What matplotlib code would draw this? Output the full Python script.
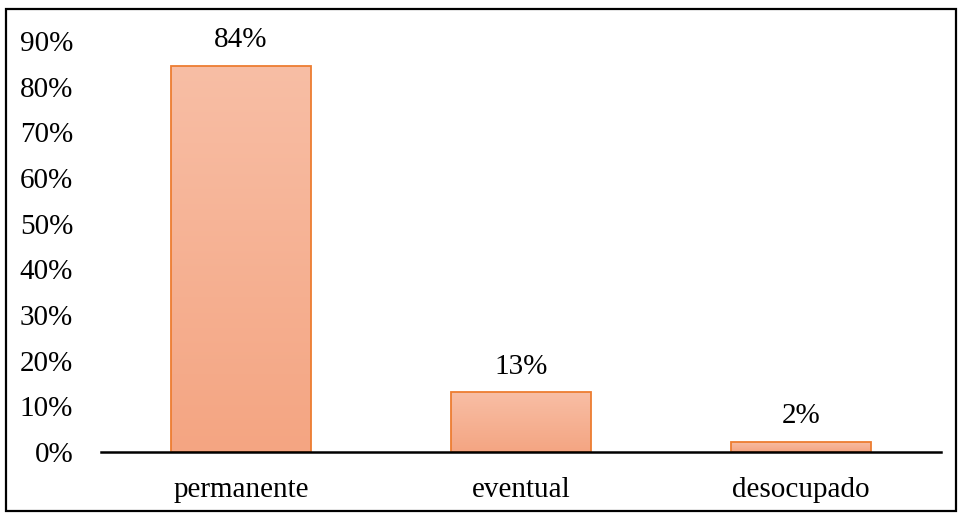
import numpy as np
import matplotlib.pyplot as plt
from matplotlib.patches import Rectangle
from matplotlib.colors import LinearSegmentedColormap

categories = ['permanente', 'eventual', 'desocupado']
values = [0.846, 0.131, 0.023]
value_labels = ['84%', '13%', '2%']
yticks = [0, 0.1, 0.2, 0.3, 0.4, 0.5, 0.6, 0.7, 0.8, 0.9]

plt.rcParams['font.family'] = ['Liberation Serif', 'DejaVu Serif']
FS = 21

fig = plt.figure(figsize=(9.59, 5.14), dpi=100)
ax = fig.add_axes([0.1053, 0.1206, 0.8759, 0.7996])

x = np.arange(len(categories))
bars = ax.bar(x, values, width=0.5, facecolor='none', edgecolor='#ED7D31',
              linewidth=1.3, zorder=3)

# gradient fill for each bar (light top, darker bottom)
grad = np.linspace(0, 1, 256).reshape(-1, 1)
cmap = LinearSegmentedColormap.from_list('bar', ['#F4A582', '#F8BEA5'])
for b in bars:
    x0, w, h = b.get_x(), b.get_width(), b.get_height()
    im = ax.imshow(grad, cmap=cmap, origin='lower', aspect='auto',
                   extent=[x0, x0 + w, 0, h], zorder=2)
    im.set_clip_path(b)

for xi, v, lab in zip(x, values, value_labels):
    ax.annotate(lab, (xi, v), xytext=(0, 9), textcoords='offset points',
                ha='center', va='bottom', fontsize=FS, annotation_clip=False)

ax.set_xlim(-0.5, 2.5)
ax.set_ylim(0, 0.9)
ax.set_xticks(x)
ax.set_xticklabels(categories, fontsize=FS)
ax.set_yticks(yticks)
ax.set_yticklabels([f'{int(round(t * 100))}%' for t in yticks], fontsize=FS)
ax.tick_params(axis='both', length=0)
ax.tick_params(axis='y', pad=20)
ax.tick_params(axis='x', pad=18)

for s in ['top', 'right', 'left']:
    ax.spines[s].set_visible(False)
ax.spines['bottom'].set_linewidth(1.8)
ax.spines['bottom'].set_color('black')
ax.spines['bottom'].set_zorder(4)

# outer frame
fig.patches.append(Rectangle((0.006, 0.006), 0.991, 0.976, transform=fig.transFigure,
                             fill=False, edgecolor='black', linewidth=1.6))

fig.savefig('out.png', dpi=100)
